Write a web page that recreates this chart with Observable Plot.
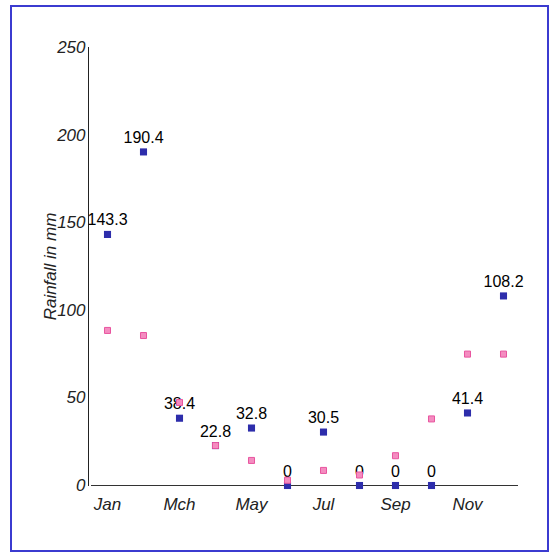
<!DOCTYPE html>
<html><head><meta charset="utf-8">
<script src="https://cdn.jsdelivr.net/npm/d3@7"></script>
<script src="https://cdn.jsdelivr.net/npm/@observablehq/plot@0.6"></script>
<style>
html,body{margin:0;padding:0;background:#fff;}
#wrap{position:relative;width:551px;height:557px;overflow:hidden;}
#border{position:absolute;left:10px;top:5px;width:539px;height:547px;box-sizing:border-box;border:2px solid #3b3bd0;}
#chart{position:absolute;left:0;top:0;}
</style></head><body>
<div id="wrap"><div id="border"></div><div id="chart"></div></div>
<script>
const months = ["Jan","Feb","Mch","Apr","May","Jun","Jul","Aug","Sep","Oct","Nov","Dec"];
const tickMonths = ["Jan","Mch","May","Jul","Sep","Nov"];
const rainfallA = [143.3,190.4,38.4,22.8,32.8,0,30.5,0,0,0,41.4,108.2];
const labelsA = ["143.3","190.4","38.4","22.8","32.8","0","30.5","0","0","0","41.4","108.2"];
const rainfallB = [88.5,85.6,47.4,22.8,14.3,3,8.6,6,17,38,75,75];
const yTicks = [0,50,100,150,200,250];
const yLabel = "Rainfall in mm";

const dataA = months.map((m,i)=>({month:m, value:rainfallA[i], label:labelsA[i]}));
const dataB = months.map((m,i)=>({month:m, value:rainfallB[i]}));

const chart = Plot.plot({
  width:551, height:557,
  marginTop:47, marginBottom:72, marginLeft:88, marginRight:30,
  style:{background:"transparent", fontFamily:"'Liberation Sans', Arial, sans-serif", overflow:"visible"},
  x:{type:"point", domain:months, padding:0.5, axis:null},
  y:{domain:[0,250], axis:null},
  marks:[
    Plot.ruleY([0], {stroke:"#333", strokeWidth:1, insetLeft:3, insetRight:3}),
    Plot.frame({anchor:"left", stroke:"#222", strokeWidth:1}),
    Plot.axisY({ticks:yTicks, tickSize:0, tickPadding:3, fontSize:17, fontStyle:"italic", label:null, color:"#222"}),
    Plot.axisX({ticks:tickMonths, tickSize:0, tickPadding:12, fontSize:17, fontStyle:"italic", label:null, color:"#222"}),
    Plot.text([yLabel], {frameAnchor:"left", textAnchor:"middle", text:d=>d, rotate:-90, dx:-38, fontSize:17, fontStyle:"italic", fill:"#222"}),
    Plot.dot(dataA, {x:"month", y:"value", symbol:"square", r:4, fill:"#2d2dab", stroke:"none"}),
    Plot.text(dataA, {x:"month", y:"value", text:"label", dy:-9, lineAnchor:"bottom", fontSize:16, fill:"#000"}),
    Plot.dot(dataB, {x:"month", y:"value", symbol:"square", r:3.4, fill:"#f48cc0", stroke:"#e8559f", strokeWidth:1})
  ]
});
document.getElementById("chart").appendChild(chart);
</script>
</body></html>
